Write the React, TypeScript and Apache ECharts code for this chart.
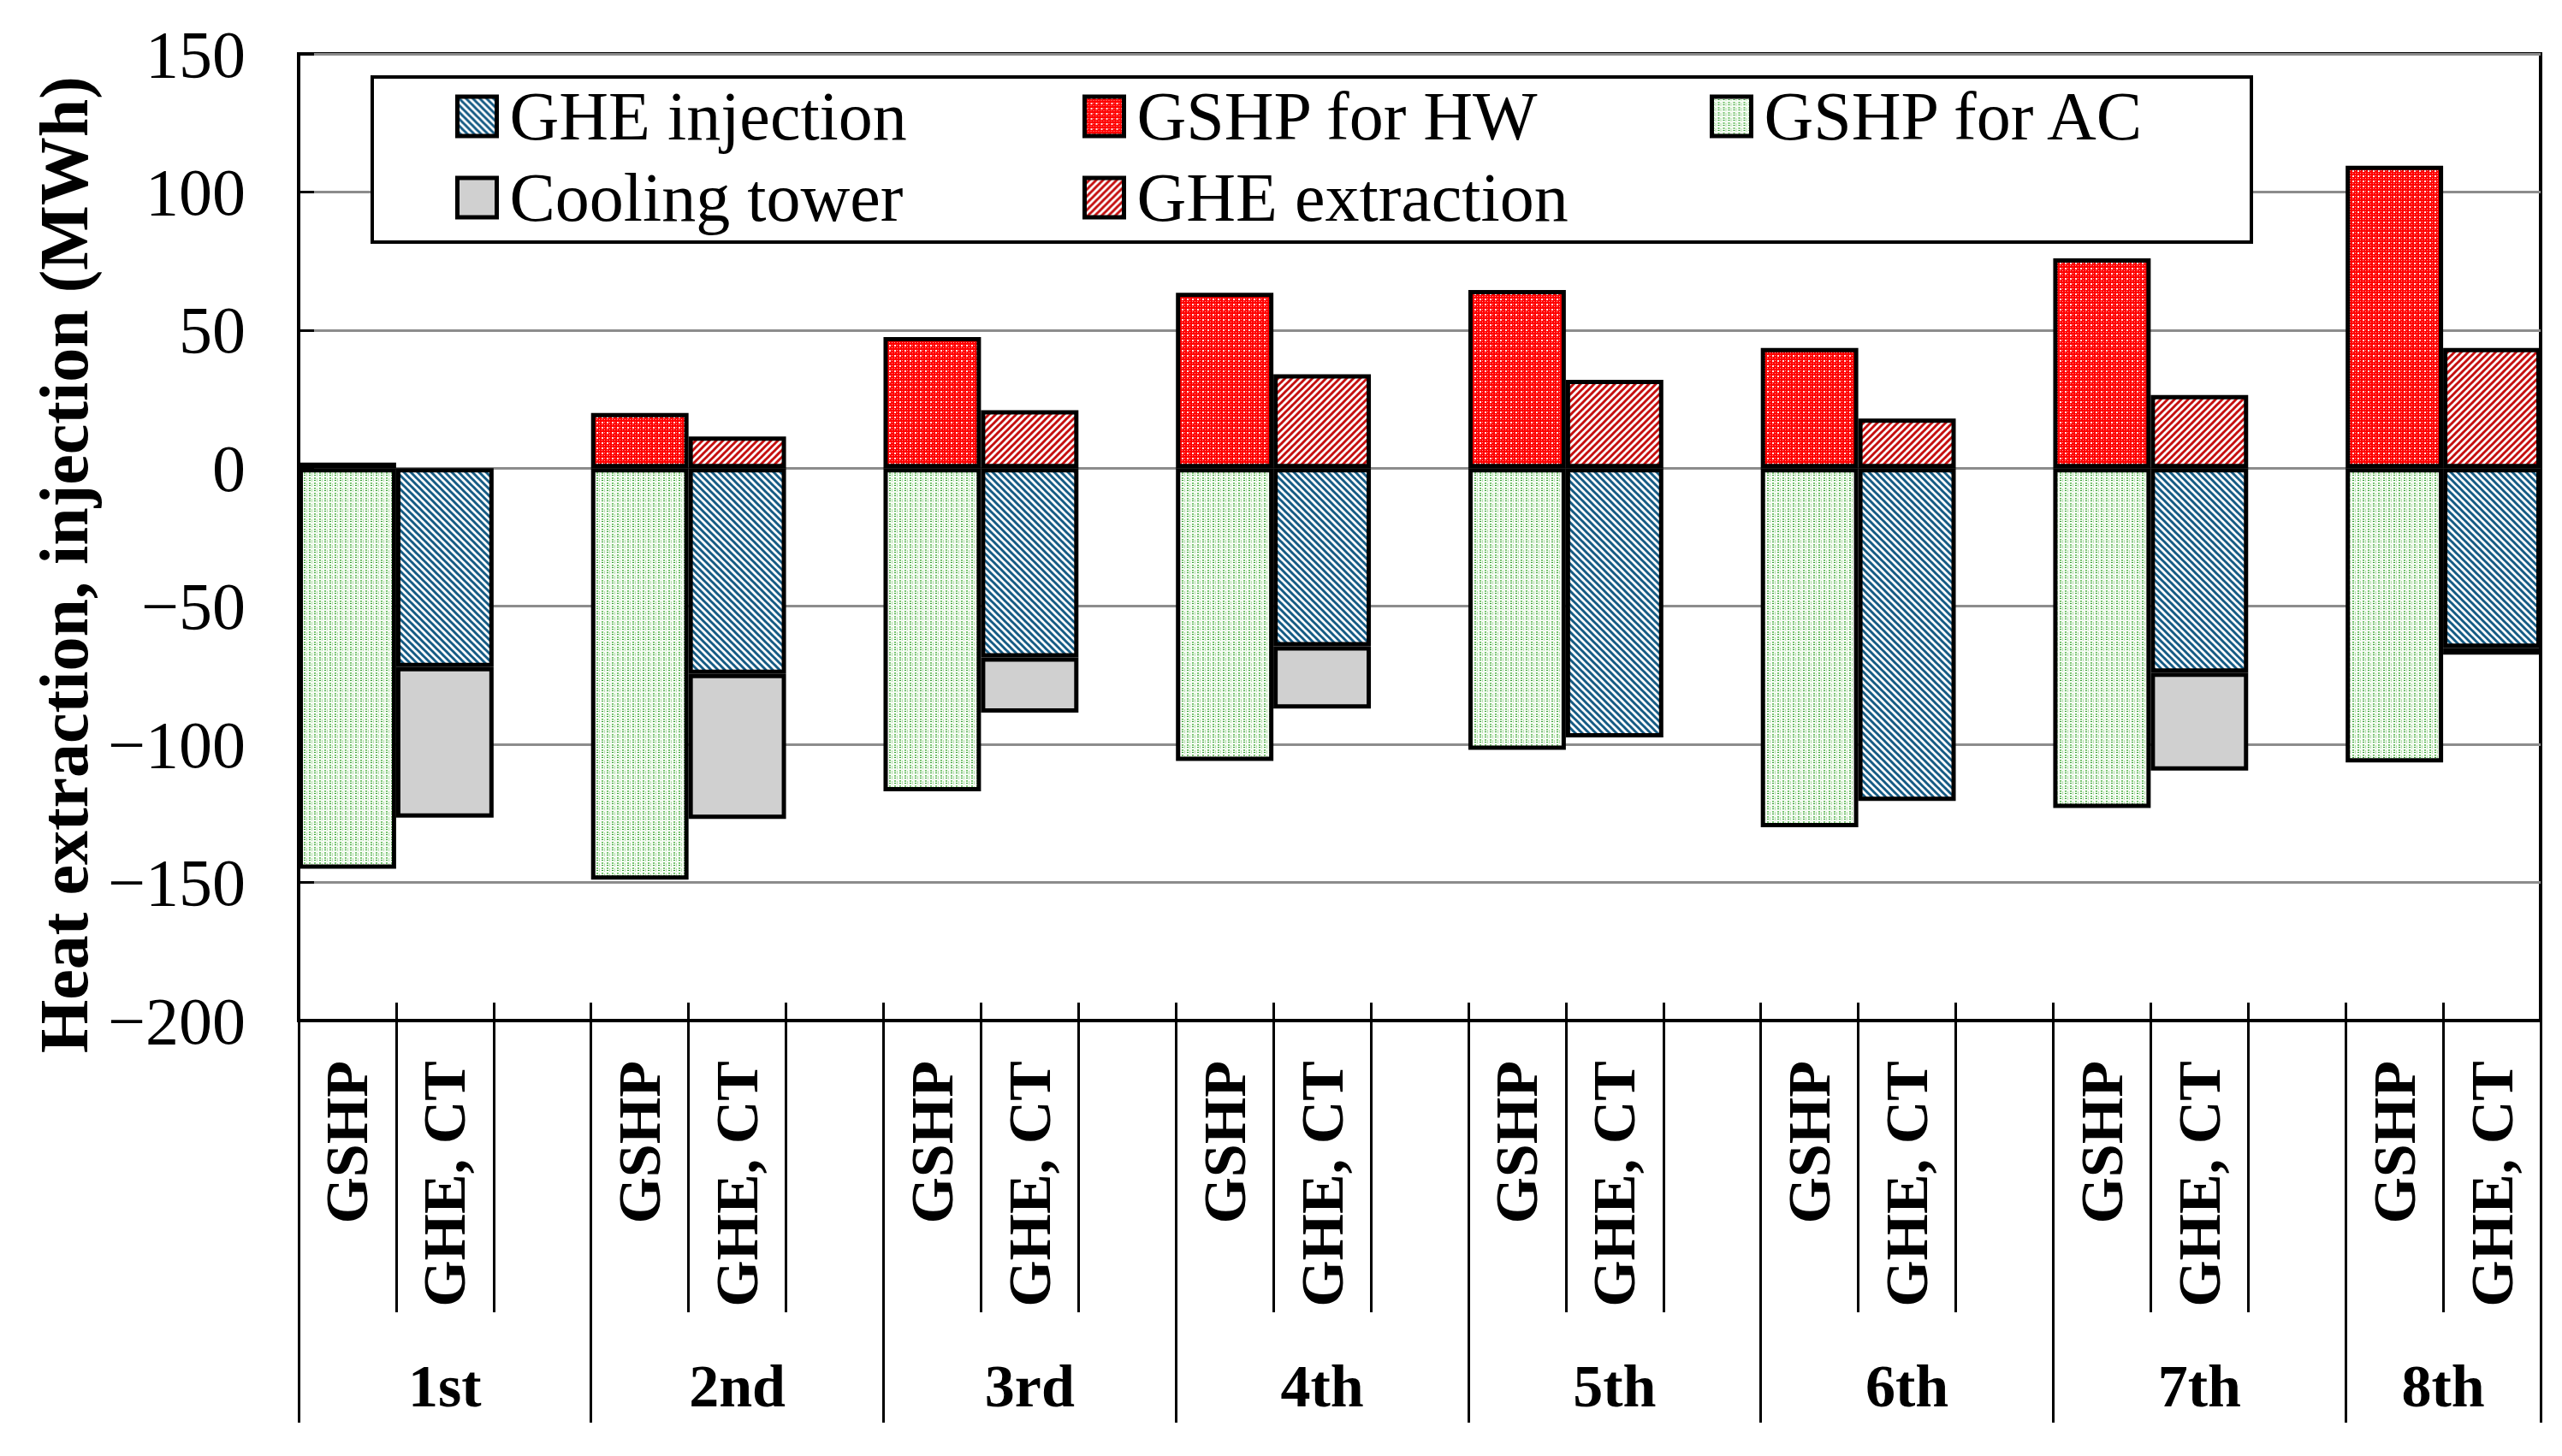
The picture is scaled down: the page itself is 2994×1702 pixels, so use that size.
import React, { useEffect, useRef } from 'react';
import * as echarts from 'echarts';

// ---- data ----
const groupNames = ['1st', '2nd', '3rd', '4th', '5th', '6th', '7th', '8th'];
const unitNames = ['GSHP', 'GHE, CT', ''];
// GSHP column (per group)
const gshpForHW = [2, 20, 47.5, 63.5, 64.5, 43.5, 76, 109.5];
const gshpForAC = [-145, -149, -117, -106, -102, -130, -123, -106.5];
// GHE, CT column (per group)
const gheExtraction = [0, 11.5, 21, 34, 32, 18, 26.5, 43.5];
const gheInjection = [-72, -74.5, -68.5, -64.5, -97.5, -120.5, -74, -65];
const coolingTower = [-54.5, -52.5, -20, -22.5, 0, 0, -35.5, -2.5];
const yMin = -200;
const yMax = 150;
const yStep = 50;
// legend columns
const legendColumns = [
  ['GHE injection', 'Cooling tower'],
  ['GSHP for HW', 'GHE extraction'],
  ['GSHP for AC'],
];

const FONT = '"Liberation Serif", "Times New Roman", serif';

function pattern(size: number, draw: (g: CanvasRenderingContext2D, s: number) => void) {
  const c = document.createElement('canvas');
  c.width = size;
  c.height = size;
  const g = c.getContext('2d') as CanvasRenderingContext2D;
  draw(g, size);
  return { image: c, repeat: 'repeat', imageWidth: size, imageHeight: size } as any;
}

function hatch(color: string, down: boolean) {
  return pattern(8, (g, s) => {
    g.fillStyle = '#ffffff';
    g.fillRect(0, 0, s, s);
    g.strokeStyle = color;
    g.lineWidth = 3;
    for (const k of [-s, 0, s]) {
      g.beginPath();
      if (down) {
        g.moveTo(k - 1, -1);
        g.lineTo(k + s + 1, s + 1);
      } else {
        g.moveTo(k - 1, s + 1);
        g.lineTo(k + s + 1, -1);
      }
      g.stroke();
    }
  });
}

export default function App() {
  const ref = useRef<HTMLDivElement>(null);

  useEffect(() => {
    const chart = echarts.init(ref.current as HTMLDivElement, null, { renderer: 'svg' });

    const nSlots = groupNames.length * 3 - 1;
    const slotKeys = Array.from({ length: nSlots }, (_, i) => 's' + i);
    const slotLabel = (i: number) => unitNames[i % 3];
    const groupLabelAt = (i: number) => (i % 3 === 1 ? groupNames[(i - 1) / 3] : '');
    const toSlots = (vals: number[], offset: number) => {
      const arr: any[] = Array(nSlots).fill('-');
      vals.forEach((v, g) => {
        if (v !== 0) arr[g * 3 + offset] = v;
      });
      return arr;
    };

    const blueHatch = hatch('#165b84', true);
    const redHatch = hatch('#c40f0f', false);
    const redDots = pattern(6, (g, s) => {
      g.fillStyle = '#ff0000';
      g.fillRect(0, 0, s, s);
      g.fillStyle = '#ffe6e6';
      g.fillRect(1, 1, 2, 2);
      g.fillStyle = '#ff9c9c';
      g.fillRect(4, 4, 1, 1);
      g.fillRect(4, 1, 1, 1);
      g.fillRect(1, 4, 1, 1);
    });
    const greenDots = pattern(6, (g, s) => {
      g.fillStyle = '#f6fcf4';
      g.fillRect(0, 0, s, s);
      g.fillStyle = '#7cc674';
      g.fillRect(1, 0, 2, 2);
      g.fillStyle = '#2f9a2f';
      g.fillRect(1, 3, 2, 1);
      g.fillStyle = '#b4e0ac';
      g.fillRect(4, 1, 1, 4);
    });
    const grayFill = '#d0d0d0';

    const barBase = {
      type: 'bar',
      stack: 'all',
      barCategoryGap: '0%',
      xAxisIndex: 0,
      yAxisIndex: 0,
    };
    const border = { borderColor: '#000', borderWidth: 5 };

    const series = [
      { ...barBase, name: 'GHE injection', data: toSlots(gheInjection, 1), itemStyle: { color: blueHatch, ...border } },
      { ...barBase, name: 'Cooling tower', data: toSlots(coolingTower, 1), itemStyle: { color: grayFill, ...border } },
      { ...barBase, name: 'GHE extraction', data: toSlots(gheExtraction, 1), itemStyle: { color: redHatch, ...border } },
      { ...barBase, name: 'GSHP for HW', data: toSlots(gshpForHW, 0), itemStyle: { color: redDots, ...border } },
      { ...barBase, name: 'GSHP for AC', data: toSlots(gshpForAC, 0), itemStyle: { color: greenDots, ...border } },
    ];

    const legendLefts = [527, 1260, 1993];
    const legends = legendColumns.map((names, c) => ({
      orient: 'vertical',
      left: legendLefts[c],
      top: 91,
      itemWidth: 46,
      itemHeight: 46,
      itemGap: 15,
      icon: 'rect',
      z: 10,
      selectedMode: false,
      data: names,
      itemStyle: { borderColor: '#000', borderWidth: 5 },
      textStyle: {
        fontFamily: FONT,
        fontSize: 80,
        color: '#000',
        padding: [0, 0, 0, 10],
      },
    }));

    const option: any = {
      animation: false,
      backgroundColor: '#ffffff',
      grid: {
        left: 349,
        right: 25,
        top: 63,
        bottom: 509,
        show: true,
        borderColor: '#000',
        borderWidth: 4,
        backgroundColor: 'transparent',
      },
      legend: legends,
      graphic: [
        {
          type: 'rect',
          z: 3,
          shape: { x: 435, y: 90, width: 2196, height: 193 },
          style: { fill: '#fff', stroke: '#000', lineWidth: 4 },
        },
      ],
      xAxis: [
        {
          type: 'category',
          position: 'bottom',
          data: slotKeys,
          axisLine: { show: true, onZero: false, lineStyle: { color: '#000', width: 4 } },
          axisTick: { show: true, interval: 0, length: 341, lineStyle: { color: '#000', width: 3 } },
          axisLabel: {
            interval: 0,
            rotate: 90,
            margin: 47,
            formatter: (_: string, i: number) => slotLabel(i),
            fontFamily: FONT,
            fontWeight: 'bold',
            fontSize: 70,
            color: '#000',
          },
          splitLine: { show: false },
        },
        {
          type: 'category',
          position: 'bottom',
          data: slotKeys,
          axisLine: { show: false, onZero: false },
          axisTick: {
            show: true,
            interval: (i: number) => i % 3 === 0,
            length: 470,
            lineStyle: { color: '#000', width: 3 },
          },
          axisLabel: {
            interval: 0,
            margin: 392,
            formatter: (_: string, i: number) => {
              if (i === nSlots - 1) return '{last|' + groupNames[groupNames.length - 1] + '}';
              return groupLabelAt(i);
            },
            fontFamily: FONT,
            fontWeight: 'bold',
            fontSize: 70,
            color: '#000',
            rich: {
              last: {
                fontFamily: FONT,
                fontWeight: 'bold',
                fontSize: 70,
                color: '#000',
                padding: [0, 114, 0, 0],
              },
            },
          },
          splitLine: { show: false },
        },
        {
          type: 'category',
          position: 'bottom',
          data: slotKeys,
          axisLine: { show: false, onZero: false },
          axisTick: { show: true, inside: true, interval: 0, length: 21, lineStyle: { color: '#000', width: 3 } },
          axisLabel: { show: false },
          splitLine: { show: false },
        },
      ],
      yAxis: {
        type: 'value',
        min: yMin,
        max: yMax,
        interval: yStep,
        name: 'Heat extraction, injection (MWh)',
        nameLocation: 'middle',
        nameGap: 229,
        nameTextStyle: {
          fontFamily: FONT,
          fontWeight: 'bold',
          fontSize: 80,
          color: '#000',
          padding: [0, 64, 0, 0],
        },
        axisLine: { show: true, lineStyle: { color: '#000', width: 4 } },
        axisTick: { show: true, inside: true, length: 18, lineStyle: { color: '#000', width: 3 } },
        axisLabel: {
          margin: 62,
          fontFamily: FONT,
          fontSize: 78,
          color: '#000',
          formatter: (v: number) => (v < 0 ? '\u2212' + Math.abs(v) : String(v)),
        },
        splitLine: { show: true, lineStyle: { color: '#8c8c8c', width: 3 } },
      },
      series,
    };

    chart.setOption(option);
    return () => chart.dispose();
  }, []);

  return (
    <div
      ref={ref}
      style={{ position: 'fixed', left: 0, top: 0, width: 2994, height: 1702, background: '#fff' }}
    />
  );
}
